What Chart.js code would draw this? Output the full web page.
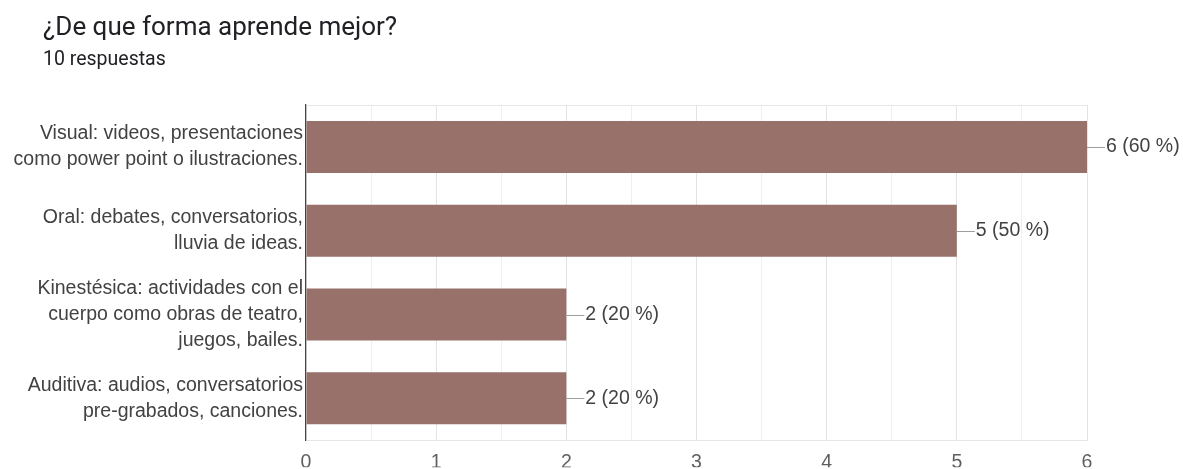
<!DOCTYPE html>
<html>
<head>
<meta charset="utf-8">
<script src="https://cdn.jsdelivr.net/npm/chart.js@4.4.0/dist/chart.umd.min.js"></script>
<style>
  html, body { margin: 0; padding: 0; background: #fff; overflow: hidden; }
  #wrap { position: relative; width: 1183px; height: 469px; }
  #title { position: absolute; left: 43px; top: 13px; font: 26px Roboto, sans-serif; line-height: 26px; color: #202124; white-space: nowrap; }
  #subtitle { position: absolute; left: 43px; top: 49px; font: 19.5px Roboto, sans-serif; line-height: 19.5px; color: #202124; white-space: nowrap; }
</style>
</head>
<body>
<div id="wrap">
  <canvas id="barChart"></canvas>
  <div id="title">¿De que forma aprende mejor?</div>
  <div id="subtitle">10 respuestas</div>
</div>
<script>
const categories = [
    ['Visual: videos, presentaciones', 'como power point o ilustraciones.'],
    ['Oral: debates, conversatorios,', 'lluvia de ideas.'],
    ['Kinestésica: actividades con el', 'cuerpo como obras de teatro,', 'juegos, bailes.'],
    ['Auditiva: audios, conversatorios', 'pre-grabados, canciones.']
];
const counts = [6, 5, 2, 2];
const totalResponses = 10;
const xTicks = [0, 1, 2, 3, 4, 5, 6];

const labelFont = '19.5px "Liberation Sans", Arial, sans-serif';

// etiqueta con linea guia al final de cada barra
const valueLabels = {
    id: 'valueLabels',
    afterDatasetsDraw(chart) {
        const ctx = chart.ctx;
        const meta = chart.getDatasetMeta(0);
        ctx.save();
        meta.data.forEach((bar, i) => {
            const v = counts[i];
            const txt = v + ' (' + Math.round(v / totalResponses * 100) + ' %)';
            ctx.strokeStyle = '#9e9e9e';
            ctx.lineWidth = 1;
            ctx.beginPath();
            ctx.moveTo(bar.x, Math.round(bar.y) + 0.5);
            ctx.lineTo(bar.x + 18, Math.round(bar.y) + 0.5);
            ctx.stroke();
            ctx.fillStyle = '#424242';
            ctx.font = labelFont;
            ctx.textAlign = 'left';
            ctx.textBaseline = 'middle';
            ctx.fillText(txt, bar.x + 19, bar.y);
        });
        ctx.restore();
    }
};

const ctx = document.getElementById('barChart').getContext('2d');
new Chart(ctx, {
    type: 'bar',
    data: {
        labels: categories,
        datasets: [{
            data: counts,
            backgroundColor: '#97716a',
            borderWidth: 0,
            barPercentage: 0.62,
            categoryPercentage: 1
        }]
    },
    options: {
        indexAxis: 'y',
        responsive: true,
        maintainAspectRatio: false,
        animation: false,
        layout: { padding: { top: 105, right: 96, bottom: 0, left: 0 } },
        plugins: {
            legend: { display: false },
            tooltip: { enabled: false }
        },
        scales: {
            x: {
                min: 0,
                max: 6,
                afterFit: s => { s.height = 27; },
                afterBuildTicks: s => {
                    const t = [];
                    xTicks.forEach((v, i) => {
                        t.push({ value: v });
                        if (i < xTicks.length - 1) t.push({ value: v + 0.5 });
                    });
                    s.ticks = t;
                },
                grid: {
                    drawTicks: false,
                    color: c => (c.tick && c.tick.value % 1 === 0) ? '#e3e3e3' : '#efefef'
                },
                border: { color: '#e6e6e6' },
                ticks: {
                    padding: 11,
                    color: '#5f5f5f',
                    font: { family: '"Liberation Sans", Arial, sans-serif', size: 19.5 },
                    callback: v => (v % 1 === 0 ? v : '')
                }
            },
            y: {
                afterFit: s => { s.width = 306; },
                grid: {
                    drawTicks: false,
                    color: c => c.index === 0 ? '#e6e6e6' : 'rgba(0,0,0,0)'
                },
                border: { color: '#444', width: 1.2 },
                ticks: {
                    padding: 3,
                    color: '#424242',
                    font: { family: '"Liberation Sans", Arial, sans-serif', size: 19.5, lineHeight: 1.32 }
                }
            }
        }
    },
    plugins: [valueLabels]
});
</script>
</body>
</html>
